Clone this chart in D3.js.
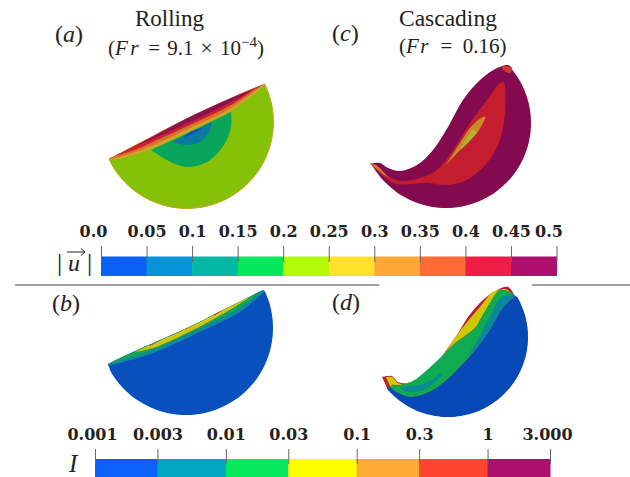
<!DOCTYPE html>
<html>
<head>
<meta charset="utf-8">
<script src="https://cdn.jsdelivr.net/npm/d3@7"></script>
<style>
html, body { margin: 0; padding: 0; background: #fff; overflow: hidden; }
text { font-family: "Liberation Serif", serif; fill: #222; }
.cb text { font-family: "DejaVu Serif", serif; font-weight: bold; font-size: 16px; fill: #222; }
</style>
</head>
<body>
<div id="graph"></div>
<script>
const width = 630;
const height = 477;

// colour bar values
const speedTicks = [0, 0.05, 0.1, 0.15, 0.2, 0.25, 0.3, 0.35, 0.4, 0.45, 0.5];
const speedLabels = ["0.0", "0.05", "0.1", "0.15", "0.2", "0.25", "0.3", "0.35", "0.4", "0.45", "0.5"];
const speedColors = ["#0a62f5", "#0892d8", "#05b8a6", "#05e85c", "#b2fa08", "#ffe02a", "#ffa835", "#ff6a35", "#f01c48", "#ac0f6c"];
const intensityTicks = [0.001, 0.003, 0.01, 0.03, 0.1, 0.3, 1, 3];
const intensityLabels = ["0.001", "0.003", "0.01", "0.03", "0.1", "0.3", "1", "3.000"];
const intensityColors = ["#0a62fa", "#05a6c2", "#08e85f", "#ffff00", "#ffaa35", "#ff4433", "#ac0f6c"];

// contour edges, as offsets from the drum centre
const aSurface = [[-78, 37], [-47, 21], [-7, 0], [33, -19], [63, -32], [78, -38]];
const aTan = [[-78, 38], [-60, 35], [-36, 27], [3, 9], [44, -11], [76, -35]];
const aOrange = [[-76, 37], [-58, 32], [-36, 24], [3, 6], [44, -14], [74, -36]];
const aRed = [[-72, 34], [-50, 27], [-30, 18], [3, 3], [44, -17], [68, -33]];
const aPurpleTop = [[-50, 23], [-30, 13], [-7, 0], [33, -19], [65, -32]];
const aPurple = [[-50, 23], [-30, 15], [3, 0], [44, -20], [65, -32]];
const aGreenLow = [[-36, 28], [-14, 41], [3, 45], [23, 38], [38, 21], [44, 5], [44, -10]];
const aGreenTop = [[44, -10], [3, 10], [-36, 28]];
const aTealLow = [[-15, 20], [0, 23], [13, 20], [23, 8], [25, 0]];
const aTealTop = [[25, 0], [3, 11], [-15, 20]];
const aBlueLow = [[-4, 15], [6, 12], [15, 6]];
const aBlueTop = [[15, 6], [5, 9], [-4, 15]];

const bSurface = [[-78, 36], [-53, 24], [1, 0], [51, -25], [77, -38]];
const bTealLow = [[-78, 38], [-36, 26], [14, 4], [54, -16], [78, -36]];
const bGreenLow = [[-74, 35], [-36, 23], [14, 0], [54, -20], [74, -36]];
const bYellowLow = [[-51, 24], [-33, 20], [7, 2], [47, -20], [67, -33]];
const bYellowTop = [[-51, 24], [-36, 17], [4, -1], [51, -25], [67, -33]];
const bRedTopA = [[-36, 17], [-26, 12.5]];
const bRedLowA = [[-26, 12.5], [-36, 18]];
const bRedTopB = [[28, -13.5], [40, -19.5]];
const bRedLowB = [[40, -19.5], [28, -12.5]];
const bOrangeTop = [[0, 0.5], [7, -3]];
const bOrangeLow = [[7, -3], [0, 2]];

const cSurface = [[-76, 41], [-66, 40], [-58, 45], [-46, 48], [-29, 42], [-13, 27], [2, 4], [17, -23], [34, -43], [51, -55], [62, -58], [66, -55]];
const cRedLow = [[58, -41], [59, -36], [59, -10], [54, 17], [41, 40], [21, 57], [1, 62], [-19, 60], [-36, 61], [-49, 61], [-58, 57], [-68, 48], [-74, 43]];
const cRedTop = [[-74, 43], [-68, 44], [-58, 53], [-45, 58], [-26, 55], [-9, 47], [7, 27], [24, 0], [41, -23], [54, -40], [58, -41]];
const cOrangeLow = [[-75, 41], [-62, 52], [-58, 54]];
const cOrangeTop = [[-58, 54], [-70, 42], [-75, 41]];
const cPatch = [[56, -57], [66, -55], [64, -50], [57, -53], [56, -57]];
const cTanLow = [[0, 42], [14, 20], [24, 5], [37, -6], [40, -6]];
const cTanTop = [[40, -6], [31, 10], [17, 24], [0, 42]];
const cYellowLow = [[14, 27], [21, 14], [27, 7], [31, 9]];
const cYellowTop = [[31, 9], [22, 20], [14, 27]];
const cGreen = [[17, 23], [21, 18], [22, 17], [18, 22], [17, 23]];

const dSurface = [[-66, 40], [-61, 39], [-56, 39], [-50, 45], [-40, 46], [-28, 41], [-15, 31], [-3, 15], [9, -2], [20, -20], [35, -37], [49, -47], [60, -50], [67, -41]];
const dYellowOuter = [[64, -44], [57, -48], [45, -45], [32, -30], [19, -15], [7, 1], [-6, 21]];
const dYellowInner = [[-6, 21], [5, 8], [27, -9], [32, -17], [42, -34], [52, -47], [64, -44]];
const dLeftOuter = [[-62, 40], [-56, 40], [-50, 46], [-40, 47], [-30, 42]];
const dLeftInner = [[-30, 42], [-48, 48], [-56, 48], [-50, 54], [-55, 53], [-62, 40]];
const dGreenTop = [[-56, 48], [-48, 48], [-35, 44], [-21, 33], [-6, 19], [5, 8], [27, -9], [32, -17], [42, -34], [52, -47], [64, -44]];
const dTealTopUp = [[66, -42], [54, -40], [45, -27], [35, -7], [27, 8], [19, 20]];
const dTealLowUp = [[-8, 36], [-13, 41], [-28, 48], [-45, 50], [-48, 51]];
const dTealLowDown = [[-48, 51], [-40, 55], [-25, 53], [-11, 43], [-6, 38], [-8, 36]];
const dBulkTop = [[67, -41], [55, -29], [42, -7], [29, 11], [12, 30], [-5, 46], [-21, 56], [-38, 60], [-50, 56], [-58, 50]];

const svg = d3.select("#graph").append("svg")
  .attr("width", width)
  .attr("height", height);

// points along the drum wall, clockwise on screen from deg0 to deg1
function rim(r, deg0, deg1) {
  return d3.range(deg0, deg1 + 0.1, 5).map(a => [
    r * Math.cos(a * Math.PI / 180),
    r * Math.sin(a * Math.PI / 180)
  ]);
}

function rev(edge) {
  return edge.slice().reverse();
}

// each layer is a list of smooth edges joined end to end, so corners stay sharp
function drawDrum(cx, cy, layers) {
  const x = d3.scaleLinear().domain([-100, 100]).range([cx - 100, cx + 100]);
  const y = d3.scaleLinear().domain([-100, 100]).range([cy - 100, cy + 100]);
  const line = d3.line().x(d => x(d[0])).y(d => y(d[1])).curve(d3.curveCatmullRom.alpha(0.5));
  const outline = edges => edges.map((e, i) => {
    const p = line(e);
    return i === 0 ? p : "L" + p.slice(1);
  }).join("") + "Z";
  svg.append("g")
    .selectAll("path")
    .data(layers)
    .enter().append("path")
    .attr("d", d => outline(d.edges))
    .attr("fill", d => d.color)
    .attr("stroke", d => d.stroke || "none")
    .attr("stroke-width", 1);
}

// (a) rolling, speed
drawDrum(187, 122, [
  { edges: [aSurface, rim(86.5, -25, 154)], color: "#84c107", stroke: "#c8a62a" },
  { edges: [aSurface, rev(aTan)], color: "#d0a030" },
  { edges: [aSurface, rev(aOrange)], color: "#d8702c" },
  { edges: [aSurface, rev(aRed)], color: "#c8202f" },
  { edges: [aPurpleTop, rev(aPurple)], color: "#8a1055" },
  { edges: [aGreenLow, aGreenTop], color: "#08a55a" },
  { edges: [aTealLow, aTealTop], color: "#0a7a9e" },
  { edges: [aBlueLow, aBlueTop], color: "#0b50c0" }
]);

// (b) rolling, inertial number
drawDrum(186, 328, [
  { edges: [bSurface, rim(87, -25, 154)], color: "#0850bd" },
  { edges: [bSurface, rev(bTealLow)], color: "#12889a" },
  { edges: [bSurface, rev(bGreenLow)], color: "#10a55a" },
  { edges: [bYellowTop, rev(bYellowLow)], color: "#d2c410" },
  { edges: [bRedTopA, bRedLowA], color: "#b5302c" },
  { edges: [bRedTopB, bRedLowB], color: "#b5302c" },
  { edges: [bOrangeTop, bOrangeLow], color: "#c88020" }
]);

// (c) cascading, speed
drawDrum(446, 123, [
  { edges: [cSurface, rim(85, -40, 152)], color: "#830a4e" },
  { edges: [cRedLow, cRedTop], color: "#c41e2e" },
  { edges: [cOrangeLow, cOrangeTop], color: "#d07a30" },
  { edges: [cPatch], color: "#d03a2c" },
  { edges: [cTanLow, cTanTop], color: "#c88a2a" },
  { edges: [cYellowLow, cYellowTop], color: "#b8b030" },
  { edges: [cGreen], color: "#30b030" }
]);

// (d) cascading, inertial number
drawDrum(448, 337, [
  { edges: [dSurface, rim(79.5, -30, 140)], color: "#b82038" },
  { edges: [dYellowOuter, dYellowInner], color: "#cfc800" },
  { edges: [dLeftOuter, dLeftInner], color: "#cfc800" },
  { edges: [dGreenTop, dBulkTop], color: "#10ab50" },
  { edges: [dTealTopUp, rev(dBulkTop.slice(0, 4))], color: "#0a8a98" },
  { edges: [dTealLowUp, dTealLowDown], color: "#0a8a98" },
  { edges: [dBulkTop, rev(rim(80, -30, 140))], color: "#0849b8" }
]);

// divider, broken around panel (d)
svg.append("g")
  .selectAll("line")
  .data([[15, 379], [532, 630]])
  .enter().append("line")
  .attr("x1", d => d[0])
  .attr("x2", d => d[1])
  .attr("y1", 285)
  .attr("y2", 285)
  .attr("stroke", "#808080")
  .attr("stroke-width", 1.5);

// speed colour bar
const speedScale = d3.scaleLinear().domain([0, 0.5]).range([101, 556.5]);
const speedBar = svg.append("g").attr("class", "cb");
speedBar.selectAll("rect")
  .data(speedColors)
  .enter().append("rect")
  .attr("x", (d, i) => speedScale(speedTicks[i]))
  .attr("width", (d, i) => speedScale(speedTicks[i + 1]) - speedScale(speedTicks[i]) + 0.5)
  .attr("y", 256.5)
  .attr("height", 19.5)
  .attr("fill", d => d);
const speedAxis = speedBar.append("g")
  .attr("transform", "translate(0,262)")
  .call(d3.axisTop(speedScale).tickValues(speedTicks).tickFormat((d, i) => speedLabels[i]).tickSize(16).tickPadding(9));
speedAxis.select(".domain").remove();
speedAxis.selectAll("line").attr("stroke", "#666");
speedAxis.selectAll("text").attr("dx", (d, i) => i === 0 ? -8 : i === 10 ? -8 : 0);

// inertial number colour bar
const intensityScale = d3.scaleLog().domain([0.001, 3]).range([95, 550]);
const intensityBar = svg.append("g").attr("class", "cb");
intensityBar.selectAll("rect")
  .data(intensityColors)
  .enter().append("rect")
  .attr("x", (d, i) => intensityScale(intensityTicks[i]))
  .attr("width", (d, i) => intensityScale(intensityTicks[i + 1]) - intensityScale(intensityTicks[i]) + 0.5)
  .attr("y", 459)
  .attr("height", 18)
  .attr("fill", d => d);
const intensityAxis = intensityBar.append("g")
  .attr("transform", "translate(0,464)")
  .call(d3.axisTop(intensityScale).tickValues(intensityTicks).tickFormat((d, i) => intensityLabels[i]).tickSize(15).tickPadding(9));
intensityAxis.select(".domain").remove();
intensityAxis.selectAll("line").attr("stroke", "#666");
intensityAxis.selectAll("text").attr("dx", (d, i) => i === 0 ? -3 : i === 7 ? -3 : 0);

// panel letters and titles
function panelLabel(x, y, letter) {
  const t = svg.append("text").attr("x", x).attr("y", y).attr("font-size", 24);
  t.append("tspan").text("(");
  t.append("tspan").attr("font-style", "italic").text(letter);
  t.append("tspan").text(")");
}
panelLabel(55, 42, "a");
panelLabel(332, 41, "c");
panelLabel(52, 311, "b");
panelLabel(332, 310, "d");

svg.append("text").attr("x", 135).attr("y", 26).attr("font-size", 23).text("Rolling");
svg.append("text").attr("x", 399).attr("y", 26).attr("font-size", 23.5).text("Cascading");

const frA = svg.append("text").attr("x", 108).attr("y", 55).attr("font-size", 21);
frA.append("tspan").text("(");
frA.append("tspan").attr("font-style", "italic").attr("letter-spacing", 2.5).text("Fr");
frA.append("tspan").attr("word-spacing", 2).text(" = 9.1 × 10");
frA.append("tspan").attr("dy", -8).attr("font-size", 15).text("−4");
frA.append("tspan").attr("dy", 8).text(")");

const frC = svg.append("text").attr("x", 399).attr("y", 53).attr("font-size", 21);
frC.append("tspan").text("(");
frC.append("tspan").attr("font-style", "italic").attr("letter-spacing", 1.5).text("Fr");
frC.append("tspan").style("white-space", "pre").text("  =  0.16)");

// colour bar symbols
svg.append("text").attr("x", 57).attr("y", 271).attr("font-size", 26).text("|");
svg.append("text").attr("x", 87).attr("y", 271).attr("font-size", 26).text("|");
svg.append("text").attr("x", 68).attr("y", 271).attr("font-size", 24).attr("font-style", "italic").text("u");
svg.append("path").attr("d", "M67,252H85M81,248.5L85,252L81,255.5").attr("fill", "none").attr("stroke", "#222").attr("stroke-width", 1);
svg.append("text").attr("x", 69).attr("y", 472).attr("font-size", 25).attr("font-style", "italic").text("I");
</script>
</body>
</html>
